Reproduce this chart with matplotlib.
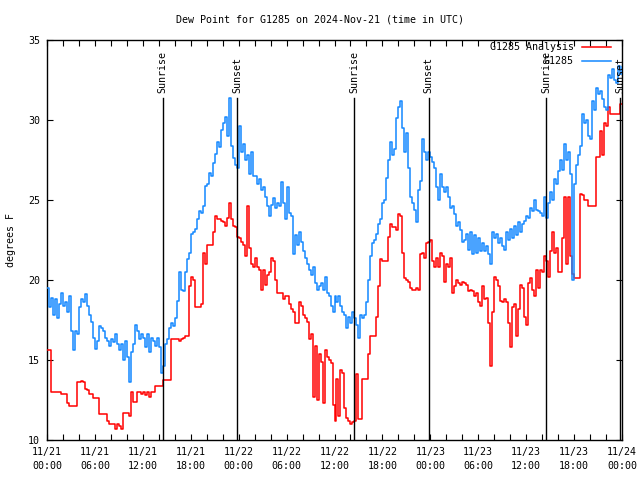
import numpy as np
import matplotlib
matplotlib.use("Agg")
import matplotlib.pyplot as plt
from matplotlib.lines import Line2D

plt.rcParams['font.family'] = ['DejaVu Sans Mono']

title = "Dew Point for G1285 on 2024-Nov-21 (time in UTC)"
ylabel = "degrees F"

# hours since 11/21 00:00 UTC, sampled every 15 minutes
step_hours = 0.25

g1285 = [
    19.5, 18.3, 18.9, 17.8, 18.8, 17.6, 18.5, 19.2, 18.4, 18.6, 18.0, 19.0,
    16.8, 15.6, 16.8, 16.6, 18.3, 18.8, 18.6, 19.1, 18.4, 17.8, 17.4, 16.4,
    15.7, 16.2, 17.1, 17.0, 16.8, 16.4, 16.2, 15.9, 16.3, 16.1, 16.6, 16.0,
    15.6, 16.0, 15.0, 16.2, 15.2, 13.6, 15.5, 16.0, 17.2, 16.8, 16.3, 16.6,
    16.4, 15.8, 16.6, 15.5, 16.4, 16.2, 15.9, 16.4, 15.8, 14.2, 14.6, 16.0,
    16.3, 17.0, 17.3, 17.1, 17.6, 18.7, 20.5, 19.4, 19.3, 20.5, 21.3, 21.7,
    22.9, 23.0, 23.2, 23.8, 24.3, 24.2, 24.6, 25.9, 26.0, 26.7, 26.5, 27.3,
    27.9, 28.6, 28.3, 29.4, 29.8, 30.2, 29.0, 31.4, 28.4, 27.6, 27.2, 27.0,
    29.6, 28.0, 28.5, 27.5, 27.8, 26.6, 28.0, 26.5, 26.5, 26.0, 26.3, 25.6,
    25.8, 25.2, 24.6, 24.0, 24.7, 25.1, 24.5, 24.8, 24.6, 26.1, 24.8, 23.8,
    25.8, 24.2, 24.0, 21.6, 22.8, 22.2, 23.0, 22.4, 21.8, 21.4, 21.0, 20.6,
    20.3, 20.8, 19.8, 19.4, 19.6, 19.8, 19.4, 20.2, 19.2, 19.0, 18.4, 18.0,
    19.0, 18.6, 19.0, 18.4, 18.0, 17.8, 17.0, 17.7, 17.3, 18.0, 17.6, 17.2,
    16.4, 17.8, 17.6, 17.8, 18.6, 20.0, 21.5, 22.3, 22.5, 22.9, 23.5, 23.8,
    24.8, 25.0, 26.4, 27.5, 28.6, 27.8, 28.2, 30.1, 30.8, 31.2, 29.5, 28.0,
    29.2, 27.0, 25.2, 24.8, 24.4, 23.6, 25.6, 26.2, 28.8, 28.0, 27.5, 28.0,
    27.7, 27.4, 27.0, 25.8, 25.0, 26.6, 25.8, 25.5, 25.8, 25.2, 24.5, 24.6,
    24.1, 23.4, 23.6, 23.1, 22.4, 22.5, 22.9, 21.9, 23.0, 21.6, 22.8, 21.7,
    22.6, 21.8, 22.3, 21.8, 22.1, 21.6, 21.0, 23.0, 22.6, 22.9, 22.3, 22.6,
    22.1, 21.9, 23.0, 22.5, 23.2, 22.6, 23.4, 22.8, 23.6, 23.0, 23.5, 23.7,
    24.0, 23.9, 24.5, 24.3, 25.0, 24.4, 24.3, 24.2, 24.0, 25.2, 23.9, 24.8,
    25.5, 25.0, 26.3, 26.0, 26.8, 27.5, 26.9, 28.5, 27.5, 28.0, 26.6, 20.0,
    26.0, 27.2, 27.8, 28.4, 30.4, 29.8, 30.0, 29.0, 28.8, 31.2, 30.6, 32.0,
    31.6, 31.8, 31.3, 30.8, 30.6, 32.8, 32.6, 33.2, 32.5, 32.3, 33.4, 32.9,
    33.3,
]

g1285_analysis = [
    15.6, 15.6, 13.0, 13.0, 13.0, 13.0, 13.0, 12.9, 12.9, 12.9, 12.3, 12.1,
    12.1, 12.1, 12.1, 13.6, 13.6, 13.7, 13.6, 13.2, 13.1, 12.9, 12.9, 12.6,
    12.6, 12.6, 11.6, 11.6, 11.6, 11.6, 11.2, 11.0, 11.0, 11.0, 10.7, 11.0,
    10.9, 10.7, 11.7, 11.7, 11.7, 11.5, 13.0, 12.4, 12.4, 13.0, 13.0, 12.9,
    13.0, 12.8, 13.0, 12.7, 13.0, 13.0, 13.4, 13.4, 13.4, 13.4, 13.75, 13.75,
    13.75, 13.75, 16.3, 16.3, 16.3, 16.3, 16.2, 16.3, 16.4, 16.5, 16.5, 19.6,
    20.2, 20.0, 18.3, 18.3, 18.3, 18.5, 21.7, 21.0, 22.2, 22.2, 22.2, 23.0,
    24.0, 23.8, 23.8, 23.7, 23.6, 23.4, 23.9, 24.8, 23.8, 23.4, 23.3, 22.7,
    22.6, 22.4, 22.2, 21.5, 24.6, 22.0, 21.0, 20.8, 21.4, 20.8, 20.6, 19.4,
    20.6, 19.7, 20.3, 20.5, 21.4, 21.2, 20.0, 19.2, 19.2, 19.2, 18.8, 19.0,
    19.0, 18.5, 18.2, 18.0, 17.3, 17.3, 18.6, 18.4, 17.8, 17.6, 17.4, 16.3,
    16.6, 12.7, 15.9, 12.5, 15.4, 14.9, 12.3, 15.6, 15.2, 15.0, 14.8, 12.2,
    11.2, 13.8, 11.5, 14.4, 14.2, 12.0, 11.4, 11.2, 11.0, 11.1, 11.2, 14.1,
    11.3, 11.3, 13.8, 13.8, 13.8, 15.4, 16.5, 16.5, 16.5, 17.7, 19.6, 21.3,
    21.2, 21.2, 21.2, 22.7, 23.5, 23.3, 23.3, 23.1, 24.1, 24.0, 21.7, 20.1,
    20.0, 19.9, 19.5, 19.4, 19.4, 19.5, 19.4, 21.6, 21.7, 21.4, 22.3, 22.4,
    22.5, 21.2, 20.8, 21.4, 20.8, 21.7, 21.5, 19.9, 21.0, 20.8, 21.4, 19.2,
    19.6, 20.0, 19.8, 19.7, 19.9, 19.8, 19.7, 19.3, 19.4, 19.3, 19.0, 19.2,
    18.6, 18.4, 19.6, 18.8, 18.9, 17.3, 14.6, 18.0, 20.2, 20.0, 19.6, 18.7,
    18.6, 18.8, 18.6, 17.3, 15.8, 18.3, 18.5, 16.5, 18.2, 19.7, 19.5, 17.7,
    17.2, 19.8, 20.1, 19.4, 19.0, 20.6, 19.5, 20.6, 20.5, 21.5, 21.2, 20.2,
    21.8, 23.0, 21.7, 22.0, 20.5, 20.5, 22.6, 25.2, 21.0, 25.2, 21.5, 20.4,
    20.1, 20.1, 20.1, 25.4, 25.3, 25.0, 25.0, 24.6, 24.6, 24.6, 24.6, 27.7,
    27.7, 29.3, 27.8, 29.8, 29.6, 30.8, 30.4, 30.4, 30.4, 30.4, 30.4, 31.0,
    31.0,
]

sun_events = ["Sunrise", "Sunset", "Sunrise", "Sunset", "Sunrise", "Sunset"]
sun_hours = [14.5, 23.8, 38.5, 47.8, 62.5, 71.75]

xtick_hours = [0, 6, 12, 18, 24, 30, 36, 42, 48, 54, 60, 66, 72]
xtick_labels = ["11/21\n00:00", "11/21\n06:00", "11/21\n12:00", "11/21\n18:00",
                "11/22\n00:00", "11/22\n06:00", "11/22\n12:00", "11/22\n18:00",
                "11/23\n00:00", "11/23\n06:00", "11/23\n12:00", "11/23\n18:00",
                "11/24\n00:00"]
yticks = [10, 15, 20, 25, 30, 35]

t_blue = np.arange(len(g1285)) * step_hours
t_red = np.arange(len(g1285_analysis)) * step_hours

BLUE = "#1488ff"
RED = "#ff0000"
FS = 7.2

fig = plt.figure(figsize=(6.4, 4.8), dpi=100)
ax = fig.add_axes([47/640, 1 - 440/480, 575/640, 400/480])

ax.plot(t_red, g1285_analysis, color=RED, lw=1.1, drawstyle="steps-post", zorder=3)
ax.plot(t_blue, g1285, color=BLUE, lw=1.1, drawstyle="steps-post", zorder=3)

for name, h in zip(sun_events, sun_hours):
    ax.plot([h, h], [10, 31.4], color="black", lw=1.0, zorder=4)
    ax.text(h, 31.7, name, rotation=90, ha="center", va="bottom", fontsize=FS, zorder=5)

ax.set_xlim(0, 72)
ax.set_ylim(10, 35)
ax.set_xticks(xtick_hours)
ax.set_xticklabels(xtick_labels)
ax.set_xticks(np.arange(0, 73, 2), minor=True)
ax.set_yticks(yticks)
ax.tick_params(which="both", direction="in", top=True, right=True, length=4,
               width=0.8, labelsize=FS)
ax.tick_params(axis="x", pad=5)
ax.tick_params(axis="y", pad=5)
for lbl in ax.get_xticklabels():
    lbl.set_linespacing(1.45)
for s in ax.spines.values():
    s.set_linewidth(1.0)

ax.set_ylabel(ylabel, fontsize=FS, labelpad=9)
fig.text(0.5, 1 - 20/480, title, ha="center", va="center", fontsize=FS)

handles = [Line2D([], [], color=RED, lw=1.1), Line2D([], [], color=BLUE, lw=1.1)]
ax.legend(handles, ["G1285 Analysis", "G1285"], loc="upper right",
          bbox_to_anchor=(611/640, 1 - 42/480), bbox_transform=fig.transFigure,
          frameon=False, markerfirst=False, fontsize=FS, handlelength=2.9,
          handletextpad=0.8, labelspacing=0.45, borderpad=0, borderaxespad=0)

fig.savefig("out.png", dpi=100)
